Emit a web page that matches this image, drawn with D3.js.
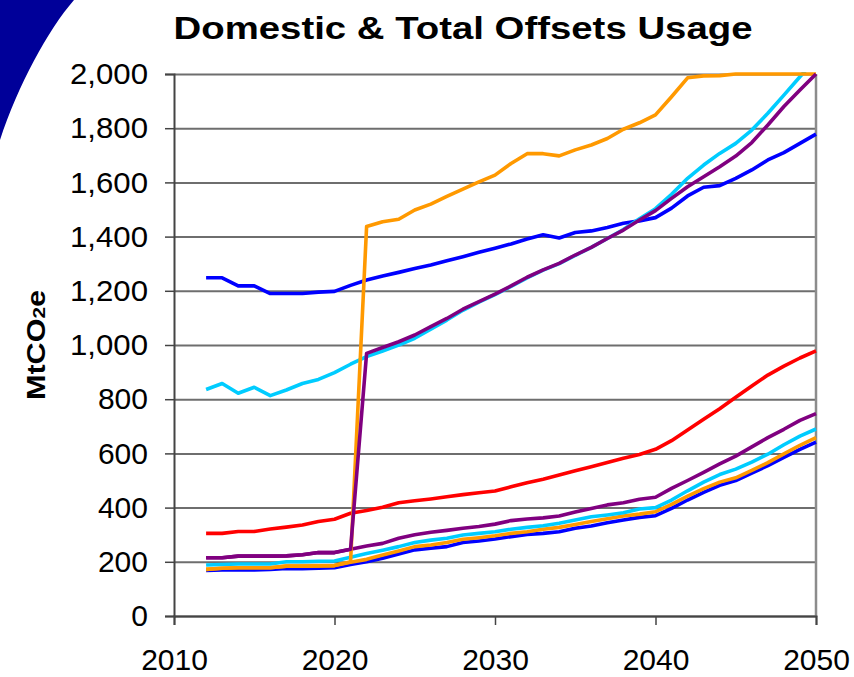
<!DOCTYPE html>
<html><head><meta charset="utf-8">
<script src="https://cdn.jsdelivr.net/npm/d3@7"></script>
<style>
html,body{margin:0;padding:0;background:#fff;}
svg{display:block;font-family:"Liberation Sans",Arial,sans-serif;}
</style></head>
<body>
<svg id="chart" width="854" height="677"></svg>
<script>
const years = [2012,2013,2014,2015,2016,2017,2018,2019,2020,2021,2022,2023,2024,2025,2026,2027,2028,2029,2030,2031,2032,2033,2034,2035,2036,2037,2038,2039,2040,2041,2042,2043,2044,2045,2046,2047,2048,2049,2050];
const blueLow   = [168,170,170,170,172,175,175,176,178, 190,200,213,229,244,250,256,271,277,284, 293,301,305,311,324,332,344,354,364,370, 397,428,456,482,500,527,555,585,615,642];
const orangeLow = [172,176,178,178,178,184,184,185,186, 198,209,225,240,256,262,271,283,289,296, 305,311,320,327,338,349,359,369,376,385, 412,442,470,494,510,537,566,598,630,658];
const cyanLow   = [188,190,192,192,192,200,200,202,203, 217,231,243,256,271,280,287,299,305,311, 320,327,333,342,354,366,373,381,395,400, 428,462,494,522,542,568,597,632,664,690];
const purpleLow = [215,215,221,221,221,222,226,234,234, 246,258,268,287,300,309,316,324,330,339, 352,358,362,369,384,397,410,418,431,438, 471,500,530,561,590,624,658,689,722,747];
const redLow    = [305,305,312,312,321,328,336,349,357, 379,389,401,418,425,432,440,448,455,461, 477,492,505,520,536,551,566,582,596,615, 647,686,726,765,807,849,889,922,952,978];
const blueHigh  = [1248,1248,1218,1218,1190,1190,1190,1195,1198, 1220,1240,1255,1268,1282,1295,1311,1326,1342,1357, 1373,1391,1407,1395,1415,1421,1434,1449,1458,1470, 1505,1550,1582,1588,1615,1646,1683,1710,1744,1778];
const cyanHigh  = [836,858,822,844,813,834,858,873,898, 929,957,978,1000,1025,1058,1092,1128,1158,1186, 1216,1248,1276,1300,1331,1360,1393,1426,1466,1503, 1556,1615,1664,1707,1744,1793,1855,1922,1990,2055];
const orangeHigh= [172,176,178,178,178,184,184,185,186, 200,1437,1455,1464,1498,1520,1548,1575,1602,1627, 1670,1706,1706,1698,1720,1738,1762,1796,1820,1849, 1916,1986,1993,1994,2000,2000,2000,2000,2000,2000];
const purpleHigh= [215,215,221,221,221,222,226,234,234, 246,969,991,1012,1037,1068,1098,1132,1160,1188, 1218,1250,1277,1301,1332,1360,1393,1424,1461,1496, 1541,1584,1621,1658,1697,1747,1812,1880,1941,2000];

const xTicks = [2010,2020,2030,2040,2050];
const yTicks = [0,200,400,600,800,1000,1200,1400,1600,1800,2000];
const title = "Domestic & Total Offsets Usage";

const series = [
  {v: blueLow,   c: "#0000FF"},
  {v: orangeLow, c: "#FF9900"},
  {v: cyanLow,   c: "#00CCFF"},
  {v: purpleLow, c: "#800080"},
  {v: redLow,    c: "#FF0000"},
  {v: blueHigh,  c: "#0000FF"},
  {v: cyanHigh,  c: "#00CCFF"},
  {v: orangeHigh,c: "#FF9900"},
  {v: purpleHigh,c: "#800080"}
];

const svg = d3.select("#chart");
const L = 174, R = 816, T = 74, B = 616;
const x = d3.scaleLinear().domain([2010,2050]).range([L,R]);
const y = d3.scaleLinear().domain([0,2000]).range([B,T]);

// decorative corner shape
svg.append("path")
  .attr("d","M0,0 L74,0 C48,30 18,85 0,140 Z")
  .attr("fill","#000099");

// gridlines
svg.append("g").attr("transform",`translate(${L},0)`)
  .call(d3.axisLeft(y).tickValues(yTicks).tickSize(-(R-L)).tickFormat(""))
  .call(g=>g.select(".domain").remove())
  .call(g=>g.selectAll("line").attr("stroke","#6e6e6e").attr("stroke-width",2));

// right border
svg.append("line").attr("x1",R).attr("x2",R).attr("y1",T).attr("y2",B+1)
  .attr("stroke","#8c8c8c").attr("stroke-width",2.5);

// y axis
const ya = svg.append("g").attr("transform",`translate(${L},0)`)
  .call(d3.axisLeft(y).tickValues(yTicks).tickSize(9).tickPadding(17).tickFormat(d3.format(",")));
ya.select(".domain").attr("stroke","#444").attr("stroke-width",2);
ya.selectAll("line").attr("stroke","#444").attr("stroke-width",1.5);
ya.selectAll("text").attr("font-size",30).attr("fill","#000").attr("font-family","Liberation Sans, Arial, sans-serif")
  .attr("textLength",d=>d>=1000?78:null).attr("lengthAdjust","spacingAndGlyphs");

// x axis
const xa = svg.append("g").attr("transform",`translate(0,${B})`)
  .call(d3.axisBottom(x).tickValues(xTicks).tickSize(9).tickPadding(24).tickFormat(d3.format("d")));
xa.select(".domain").attr("stroke","#444").attr("stroke-width",2);
xa.selectAll("line").attr("stroke","#444").attr("stroke-width",1.5);
xa.selectAll("text").attr("font-size",30).attr("fill","#000").attr("font-family","Liberation Sans, Arial, sans-serif");

// clip
svg.append("clipPath").attr("id","plotclip").append("rect")
  .attr("x",L).attr("y",T-2).attr("width",R-L+2).attr("height",B-T+2);

const line = d3.line().x((d,i)=>x(years[i])).y(d=>y(d));
const lg = svg.append("g").attr("clip-path","url(#plotclip)");
series.forEach(s=>{
  lg.append("path").datum(s.v).attr("d",line)
    .attr("fill","none").attr("stroke",s.c).attr("stroke-width",3.6)
    .attr("stroke-linejoin","round").attr("stroke-linecap","butt");
});

// title
svg.append("text").attr("x",463).attr("y",39).attr("text-anchor","middle")
  .attr("font-size",32).attr("font-weight","bold")
  .attr("textLength",579).attr("lengthAdjust","spacingAndGlyphs").text(title);

// y title
const yt = svg.append("text").attr("transform","translate(45,345) rotate(-90)")
  .attr("text-anchor","middle").attr("font-size",25).attr("font-weight","bold")
  .attr("textLength",110).attr("lengthAdjust","spacingAndGlyphs");
yt.append("tspan").text("MtCO");
yt.append("tspan").attr("font-size",17).text("2");
yt.append("tspan").text("e");
</script>
</body></html>
